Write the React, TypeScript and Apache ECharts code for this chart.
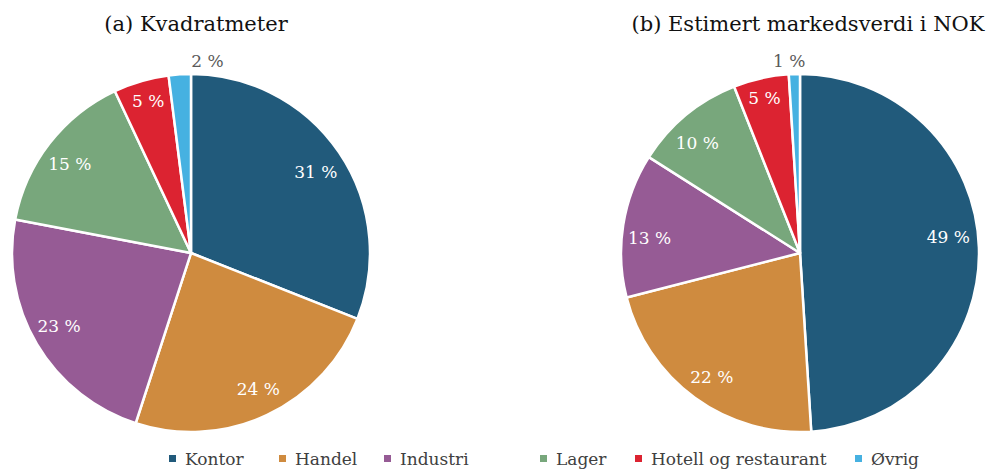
import React, { useEffect, useRef } from "react";
import * as echarts from "echarts";

const categories = ["Kontor", "Handel", "Industri", "Lager", "Hotell og restaurant", "Øvrig"];
const areaShare = [31, 24, 23, 15, 5, 2];
const valueShare = [49, 22, 13, 10, 5, 1];
const colors = ["#215a7b", "#cf8b3f", "#965b95", "#78a77c", "#dc2331", "#46b1e1"];
const titles = ["(a) Kvadratmeter", "(b) Estimert markedsverdi i NOK"];
const legendLeft = [162, 272, 377, 533, 628, 848];

const FONT = "DejaVu Serif";

export default function App() {
  const ref = useRef<HTMLDivElement>(null);
  useEffect(() => {
    if (!ref.current) return;
    const chart = echarts.init(ref.current, undefined, { renderer: "svg" });
    const R = 179;
    const centers: [number, number][] = [[191, 253], [800, 253]];
    const titleCenters = [191, 803];
    const labelOffsets: [number, number][][] = [
      [[-2, 5], [2, -3], [0, -5], [0, 5], [0, -5], [26, -39]],
      [[-5, -11], [2, 0], [1, 9], [-5, 8], [-2, -5], [-6, -39]],
    ];
    const datasets = [areaShare, valueShare];

    const series: any[] = [];
    datasets.forEach((vals, si) => {
      series.push({
        type: "pie",
        center: centers[si],
        radius: R,
        startAngle: 90,
        clockwise: true,
        silent: true,
        label: { show: false },
        labelLine: { show: false },
        itemStyle: { borderColor: "#ffffff", borderWidth: 2.5 },
        data: categories.map((c, i) => ({ name: c, value: vals[i], itemStyle: { color: colors[i] } })),
      });
    });
    datasets.forEach((vals, si) => {
      series.push({
        type: "pie",
        center: centers[si],
        radius: [R * 0.68, R],
        startAngle: 90,
        clockwise: true,
        silent: true,
        labelLine: { show: false },
        itemStyle: { color: "rgba(0,0,0,0)", borderWidth: 0 },
        label: {
          show: true,
          position: "inside",
          formatter: (p: any) => `${p.value} %`,
          color: "#ffffff",
          fontFamily: FONT,
          fontSize: 17,
        },
        data: categories.map((c, i) => {
          const item: any = { name: c, value: vals[i], label: { offset: labelOffsets[si][i] } };
          if (i === categories.length - 1) {
            item.label.color = "#595959";
          }
          return item;
        }),
      });
    });

    const option: any = {
      animation: false,
      textStyle: { fontFamily: FONT },
      title: titles.map((t, i) => ({
        text: t,
        left: titleCenters[i],
        top: 8,
        textAlign: "center",
        textStyle: { fontFamily: FONT, fontWeight: "normal", fontSize: 21, color: "#111111" },
      })),
      legend: categories.map((c, i) => ({
        data: [c],
        left: legendLeft[i],
        top: 445,
        icon: "rect",
        itemWidth: 9,
        itemHeight: 9,
        textStyle: { fontFamily: FONT, fontSize: 17, color: "#404040", padding: [0, 0, 0, 3] },
        selectedMode: false,
      })),
      series,
    };
    chart.setOption(option);
    return () => chart.dispose();
  }, []);
  return (
    <div
      ref={ref}
      style={{ position: "absolute", left: 0, top: 0, width: 987, height: 470, background: "#ffffff" }}
    />
  );
}
